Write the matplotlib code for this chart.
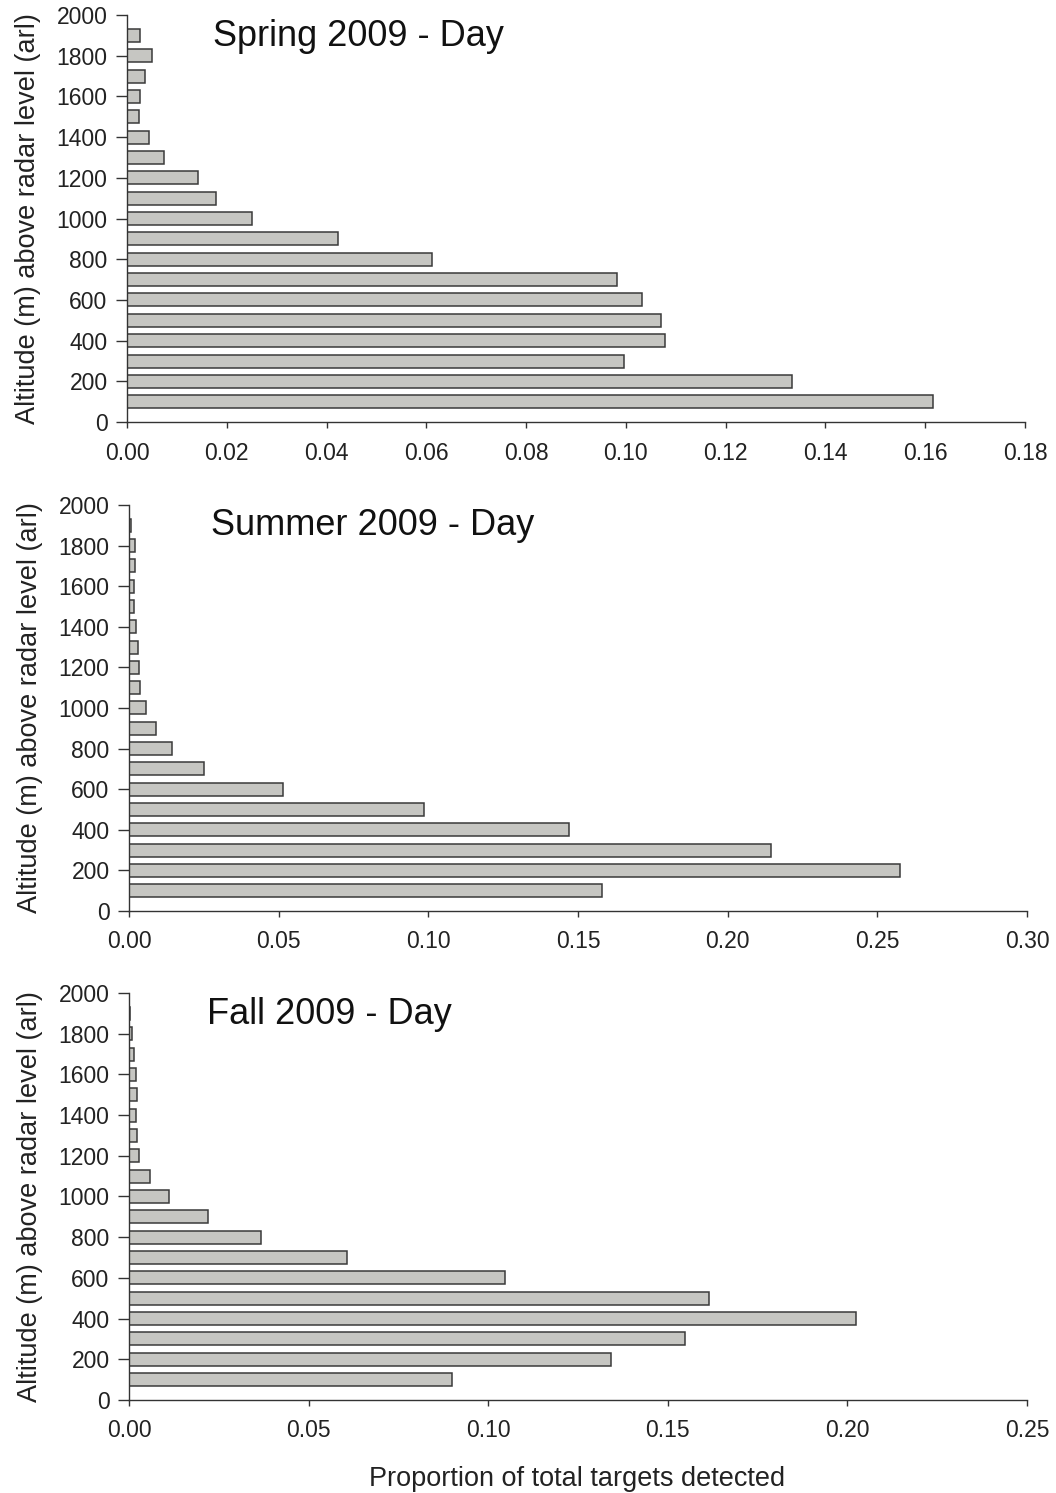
import matplotlib
matplotlib.use("Agg")
import matplotlib.pyplot as plt
import numpy as np

plt.rcParams["font.family"] = ["Liberation Sans", "DejaVu Sans"]

altitude = [100, 200, 300, 400, 500, 600, 700, 800, 900, 1000,
            1100, 1200, 1300, 1400, 1500, 1600, 1700, 1800, 1900]

spring = [0.1616, 0.1334, 0.0996, 0.1078, 0.1071, 0.1032, 0.0982, 0.0611, 0.0422, 0.0251,
          0.0178, 0.0143, 0.0075, 0.0044, 0.0024, 0.0026, 0.0037, 0.0050, 0.0026]
summer = [0.1580, 0.2577, 0.2146, 0.1469, 0.0985, 0.0514, 0.0251, 0.0143, 0.0089, 0.0055,
          0.0037, 0.0033, 0.0031, 0.0024, 0.0017, 0.0016, 0.0021, 0.0019, 0.0005]
fall = [0.0899, 0.1343, 0.1547, 0.2024, 0.1615, 0.1047, 0.0608, 0.0368, 0.0221, 0.0110,
        0.0058, 0.0028, 0.0021, 0.0018, 0.0022, 0.0020, 0.0015, 0.0009, 0.0003]

titles = ["Spring 2009 - Day", "Summer 2009 - Day", "Fall 2009 - Day"]
xmax = [0.18, 0.30, 0.25]
xstep = [0.02, 0.05, 0.05]
series = [spring, summer, fall]

fig = plt.figure(figsize=(10.56, 14.93), dpi=100)
# [left, bottom, width, height] in figure fraction
boxes = [[0.1203, 0.7173, 0.8503, 0.2726],
         [0.1222, 0.3898, 0.8503, 0.2720],
         [0.1222, 0.0623, 0.8503, 0.2726]]
title_pos = [(0.096, 0.948), (0.091, 0.950), (0.087, 0.948)]

for vals, title, xm, xs, box, tp in zip(series, titles, xmax, xstep, boxes, title_pos):
    ax = fig.add_axes(box)
    ax.barh(altitude, vals, height=64, color="#c6c6c2", edgecolor="#3a3a3a", linewidth=1.1, zorder=2)
    ax.set_xlim(0, xm)
    ax.set_ylim(0, 2000)
    ax.set_xticks(np.round(np.arange(0, xm + xs / 2, xs), 2))
    ax.xaxis.set_major_formatter(matplotlib.ticker.FormatStrFormatter("%.2f"))
    ax.set_yticks(range(0, 2001, 200))
    for side in ("top", "right"):
        ax.spines[side].set_visible(False)
    for side in ("left", "bottom"):
        ax.spines[side].set_color("#333333")
        ax.spines[side].set_linewidth(1.0)
    ax.tick_params(axis="y", direction="out", length=8, width=1, colors="#333333",
                   labelsize=16.5, labelcolor="#222222", pad=6)
    ax.tick_params(axis="x", direction="out", length=4, width=1, colors="#333333",
                   labelsize=16.5, labelcolor="#222222", pad=10)
    ax.set_ylabel("Altitude (m) above radar level (arl)", fontsize=19.5, color="#222222", labelpad=11)
    ax.text(tp[0], tp[1], title, transform=ax.transAxes, fontsize=26, color="#111111",
            ha="left", va="center")

fig.text(0.546, 0.0005, "Proportion of total targets detected", fontsize=19.5,
         color="#222222", ha="center", va="bottom")

fig.savefig("out.png", dpi=100)
